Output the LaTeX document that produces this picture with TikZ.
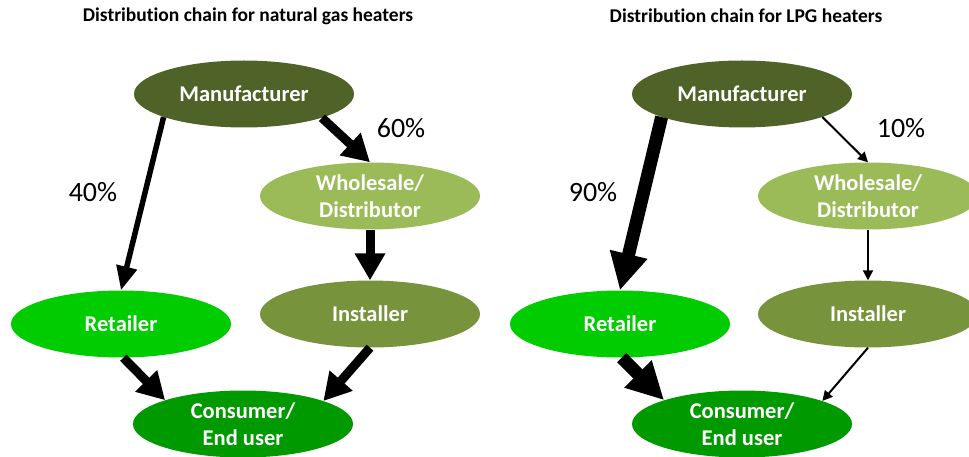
\documentclass[tikz,border=0pt]{standalone}
\usepackage{fontspec}
\setmainfont{Carlito}[Ligatures=NoCommon]
\usetikzlibrary{shapes.geometric,arrows.meta}
\definecolor{cman}{HTML}{4F6228}
\definecolor{cwho}{HTML}{9BBB59}
\definecolor{cins}{HTML}{77933C}
\definecolor{cret}{HTML}{00CC00}
\definecolor{ccon}{HTML}{009A00}
\tikzset{
  blob/.style={ellipse, minimum width=220pt, minimum height=67pt, inner sep=0pt,
    text=white, font=\fontsize{22.5}{27}\selectfont\bfseries, align=center},
  ttl/.style={font=\fontsize{19.5}{23}\selectfont\bfseries},
  pct/.style={font=\fontsize{28}{32}\selectfont},
  thinar/.style={line width=2pt, -{Triangle[length=10pt,width=10pt]}},
  midar/.style={line width=5.5pt, -{Triangle[length=24pt,width=20pt]}},
  thickar/.style={line width=9pt, -{Triangle[length=27pt,width=29pt]}},
  hugear/.style={line width=13pt, -{Triangle[length=37pt,width=36pt]}},
}
\begin{document}
\begin{tikzpicture}[x=1pt,y=-1pt]
\useasboundingbox (0,0) rectangle (969,457);
% left diagram
\node[ttl] (t1) at (248,16) {Distribution chain for natural gas heaters};
\node[blob, fill=cman] (m1) at (244,94) {Manufacturer};
\node[blob, fill=cwho] (w1) at (370,196) {Wholesale/\\Distributor};
\node[blob, fill=cins] (i1) at (370,314) {Installer};
\node[blob, fill=cret] (r1) at (121,324) {Retailer};
\node[blob, fill=ccon] (c1) at (243,424) {Consumer/\\End user};
\node[pct] (p40) at (93,192) {40\%};
\node[pct] (p60) at (401,128) {60\%};
\draw[midar] (m1.196) -- (r1.north);
\draw[thickar] (m1.343) -- (w1.north);
\draw[thickar] (w1.south) -- (i1.north);
\draw[thickar] (r1.-86) -- (c1.163);
\draw[thickar] (i1.south) -- (c1.16);
% right diagram
\node[ttl] (t2) at (746,16) {Distribution chain for LPG heaters};
\node[blob, fill=cman] (m2) at (742,94) {Manufacturer};
\node[blob, fill=cwho] (w2) at (868,196) {Wholesale/\\Distributor};
\node[blob, fill=cins] (i2) at (868,314) {Installer};
\node[blob, fill=cret] (r2) at (620,324) {Retailer};
\node[blob, fill=ccon] (c2) at (742,424) {Consumer/\\End user};
\node[pct] (p90) at (593,192) {90\%};
\node[pct] (p10) at (901,128) {10\%};
\draw[hugear] (m2.196) -- (r2.north);
\draw[thinar] (m2.344) -- (w2.north);
\draw[thinar] (w2.south) -- (i2.north);
\draw[hugear] (r2.-87) -- (c2.163);
\draw[thinar] (i2.south) -- (c2.16);
\end{tikzpicture}
\end{document}
